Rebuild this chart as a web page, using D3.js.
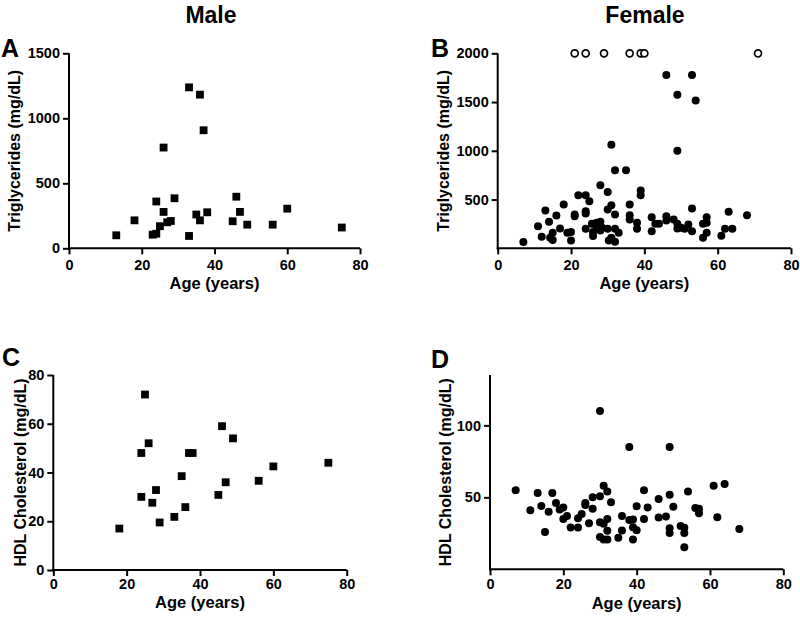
<!DOCTYPE html>
<html>
<head>
<meta charset="utf-8">
<script src="https://cdn.jsdelivr.net/npm/d3@7"></script>
<style>
  html, body { margin: 0; padding: 0; background: #fff; }
  svg { display: block; }
  text { font-family: "Liberation Sans", Arial, sans-serif; font-weight: bold; fill: #000; }
</style>
</head>
<body>
<svg id="chart" width="800" height="623"></svg>
<script>
// ---------- DATA ----------
const columnTitles = ["Male", "Female"];
const panelLetters = ["A", "B", "C", "D"];
const xTicks = [0, 20, 40, 60, 80];

// A: Male triglycerides
const maleTgAge = [13, 18, 23, 24, 24, 25, 26, 26, 27, 28, 29, 33, 33, 35, 36, 36, 37, 38, 45, 46, 47, 49, 56, 60, 75];
const maleTg    = [100, 215, 105, 112, 360, 170, 280, 775, 200, 210, 385, 1238, 95, 260, 1182, 215, 908, 277, 208, 397, 280, 182, 182, 305, 160];
const maleTgTicks = [0, 500, 1000, 1500];

// B: Female triglycerides (filled) + values off scale plotted at 2000 (open)
const femaleTgAge = [7, 11, 12, 13, 14, 14.3, 15, 15, 16, 17, 18, 19, 20, 20, 21, 21, 22, 24, 24, 24, 24, 25, 25.7, 26, 26, 27, 27, 28, 28, 28, 28.5,
  30, 30, 30, 30.3, 31, 31, 31, 32, 32, 32, 32, 33, 35, 36, 36, 36, 38, 38, 39, 39, 42, 42, 43, 44, 46, 46, 46, 48, 49, 49, 49, 49,
  50, 51, 52, 53, 53, 53, 54, 56, 56, 57, 57, 57, 61, 62, 63, 64, 68];
const femaleTg = [65, 227, 118, 387, 272, 108, 159, 84, 336, 203, 449, 159, 166, 81, 347, 330, 544, 544, 381, 357, 200, 483, 251, 166, 125, 261, 200, 272, 647, 183, 210,
  578, 398, 200, 81, 442, 1062, 108, 200, 347, 67, 800, 159, 800, 449, 340, 295, 200, 261, 592, 544, 319, 176, 251, 251, 330, 285, 1778, 295, 251, 203, 1574, 1001,
  210, 200, 244, 408, 176, 1778, 1516, 108, 251, 319, 261, 159, 130, 200, 374, 200, 340];
const femaleTgHighAge = [21, 24, 29, 36, 39, 40, 71];
const femaleTgHigh    = [2000, 2000, 2000, 2000, 2000, 2000, 2000];
const femaleTgTicks = [500, 1000, 1500, 2000];

// C: Male HDL cholesterol
const maleHdlAge = [18, 24, 24, 25, 26, 27, 28, 29, 33, 35, 36, 37, 38, 45, 46, 47, 49, 56, 60, 75];
const maleHdl    = [17, 48, 30, 72, 52, 27.6, 32.8, 19.5, 21.8, 38.5, 25.8, 48, 48, 30.8, 59, 36, 54, 36.6, 42.5, 44];
const maleHdlTicks = [0, 20, 40, 60, 80];

// D: Female HDL cholesterol
const femaleHdlAge = [7, 11, 13, 14, 15, 16, 17, 18, 19, 20, 20, 21, 22, 24, 24, 25, 26, 26, 27, 28, 28, 30, 30, 30, 30, 31, 31, 31,
  32, 32, 32, 32, 33, 35, 36, 36, 38, 38, 39, 39, 39, 40, 40, 42, 42, 43, 46, 46, 48, 49, 49, 49, 49, 50, 52, 53, 53, 53, 54, 56, 57, 57, 61, 62, 64, 68];
const femaleHdl = [55, 41, 53, 44, 26, 40, 53, 46, 41.5, 43, 35, 37, 29, 29, 35.5, 38.5, 46, 44.7, 32, 50, 42, 50.7, 32.7, 22.4, 110, 58, 31.6, 20.7,
  54, 35, 26.7, 20.7, 46.5, 22, 37, 27, 85, 34.3, 34.6, 29.3, 20.7, 43.8, 27.2, 55, 35, 43, 48.8, 36, 36.6, 85, 51.8, 28.6, 25.3, 43.5, 30, 28.8, 25.3, 15.4, 54, 42.6, 42, 39, 58, 36.2, 59.2, 28];
const femaleHdlTicks = [50, 100];

// ---------- DRAW ----------
const svg = d3.select("#chart");

function panel(cfg) {
  const g = svg.append("g");
  const x = d3.scaleLinear().domain([0, 80]).range([cfg.x0, cfg.x1]);
  const y = d3.scaleLinear().domain(cfg.yDomain).range([cfg.y0, cfg.y1]);

  const xa = g.append("g").attr("transform", `translate(0,${cfg.y0})`)
    .call(d3.axisBottom(x).tickValues(xTicks).tickSize(6).tickSizeOuter(0).tickPadding(cfg.xPad).tickFormat(d3.format("d")));
  const ya = g.append("g").attr("transform", `translate(${cfg.x0},0)`)
    .call(d3.axisLeft(y).tickValues(cfg.yTicks).tickSize(6).tickSizeOuter(0).tickPadding(3).tickFormat(d3.format("d")));
  [xa, ya].forEach(a => {
    a.select(".domain").attr("stroke", "#000").attr("stroke-width", 2);
    a.selectAll(".tick line").attr("stroke", "#000").attr("stroke-width", 2);
    a.selectAll(".tick text").style("font-size", "14.5px").style("font-weight", "bold").attr("fill", "#000");
  });
  xa.select(".domain").attr("d", `M${cfg.x0 - 1},0H${cfg.x1}`);
  ya.select(".domain").attr("d", `M0,${cfg.y1}V${cfg.y0 + 1}`);

  cfg.ages.forEach((a, i) => {
    const v = cfg.vals[i];
    if (cfg.shape === "square") {
      g.append("rect").attr("x", x(a) - 3.9).attr("y", y(v) - 3.9)
        .attr("width", 7.8).attr("height", 7.8).attr("fill", "#000");
    } else {
      g.append("circle").attr("cx", x(a)).attr("cy", y(v)).attr("r", 4).attr("fill", "#000");
    }
  });
  if (cfg.openAges) {
    cfg.openAges.forEach((a, i) => {
      g.append("circle").attr("cx", x(a)).attr("cy", y(cfg.openVals[i])).attr("r", 3.5)
        .attr("fill", "#fff").attr("stroke", "#000").attr("stroke-width", 1.7);
    });
  }

  g.append("text").attr("x", (cfg.x0 + cfg.x1) / 2).attr("y", cfg.y0 + cfg.xTitleDy)
    .attr("text-anchor", "middle").style("font-size", "16.5px").text("Age (years)");
  g.append("text").attr("transform", `translate(${cfg.yTitleX},${(cfg.y0 + cfg.y1) / 2}) rotate(-90)`)
    .attr("text-anchor", "middle").attr("dy", "0.35em").style("font-size", "16px").text(cfg.yTitle);
  g.append("text").attr("x", cfg.lx).attr("y", cfg.ly).style("font-size", "25px").text(cfg.letter);
}

panel({ letter: panelLetters[0], lx: 1, ly: 57, x0: 69, x1: 360, y0: 248.3, y1: 53.3, yDomain: [0, 1500], yTicks: maleTgTicks,
  ages: maleTgAge, vals: maleTg, shape: "square", yTitle: "Triglycerides (mg/dL)", yTitleX: 14, xPad: 5, xTitleDy: 41 });
panel({ letter: panelLetters[1], lx: 431, ly: 57, x0: 497.7, x1: 791, y0: 248.3, y1: 53.3, yDomain: [0, 2000], yTicks: femaleTgTicks,
  ages: femaleTgAge, vals: femaleTg, shape: "circle", openAges: femaleTgHighAge, openVals: femaleTgHigh,
  yTitle: "Triglycerides (mg/dL)", yTitleX: 443, xPad: 5, xTitleDy: 41 });
panel({ letter: panelLetters[2], lx: 2, ly: 366, x0: 53.3, x1: 346.7, y0: 570, y1: 375, yDomain: [0, 80], yTicks: maleHdlTicks,
  ages: maleHdlAge, vals: maleHdl, shape: "square", yTitle: "HDL Cholesterol (mg/dL)", yTitleX: 20.5, xPad: 3, xTitleDy: 38 });
panel({ letter: panelLetters[3], lx: 431, ly: 368, x0: 490, x1: 783.3, y0: 569.3, y1: 375, yDomain: [0, 135], yTicks: femaleHdlTicks,
  ages: femaleHdlAge, vals: femaleHdl, shape: "circle", yTitle: "HDL Cholesterol (mg/dL)", yTitleX: 445, xPad: 3, xTitleDy: 40 });

svg.append("text").attr("x", 211).attr("y", 23).attr("text-anchor", "middle").style("font-size", "23px").text(columnTitles[0]);
svg.append("text").attr("x", 645).attr("y", 23).attr("text-anchor", "middle").style("font-size", "23px").text(columnTitles[1]);
</script>
</body>
</html>
